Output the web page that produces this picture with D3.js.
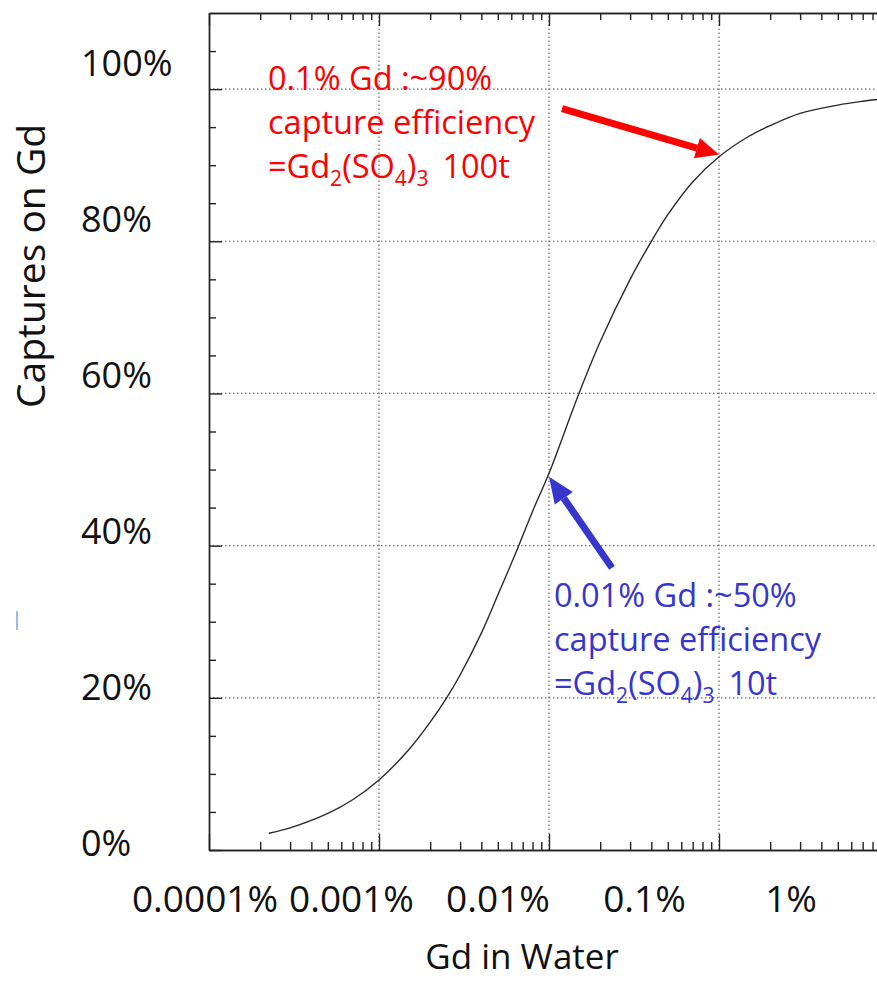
<!DOCTYPE html>
<html>
<head>
<meta charset="utf-8">
<script src="https://cdn.jsdelivr.net/npm/d3@7"></script>
<style>
  body { margin: 0; background: #fff; }
  text { font-family: "Open Sans", Lato, sans-serif; }
</style>
</head>
<body>
<svg class="chart"></svg>
<script>
// Gd concentration in water (%) and fraction of captures on Gd (%)
var gdPct = [2.25e-4, 3e-4, 5e-4, 7e-4, 1e-3, 1.5e-3, 2e-3, 2.5e-3, 3e-3, 4e-3, 5e-3, 6.5e-3, 8e-3,
  1e-2, 1.5e-2, 2e-2, 3e-2, 4e-2, 5e-2, 7e-2, 0.1, 0.15, 0.2, 0.3, 0.5, 0.7, 1.0, 1.5];
var capturePct = [2.2, 2.9, 4.8, 6.6, 9.2, 13.2, 16.8, 20, 23, 28.5, 33.5, 39.5, 44.5,
  49.5, 60, 66.8, 75, 80, 83.5, 87.8, 91.1, 93.8, 95.2, 96.8, 97.9, 98.4, 98.8, 99.1];

var xDecades = [1e-4, 1e-3, 1e-2, 1e-1, 1, 10];
var xTickLabels = ["0.0001%", "0.001%", "0.01%", "0.1%", "1%"];
var yMajor = [0, 20, 40, 60, 80, 100];
var yTickLabels = ["0%", "20%", "40%", "60%", "80%", "100%"];

// annotations: point on the curve they point to
var notes = [
  { gd: 0.1, cap: 91.4, color: "#ff0000",
    lines: ["0.1% Gd :~90%", "capture efficiency"], tail: "100t" },
  { gd: 0.01, cap: 49.3, color: "#3636cc",
    lines: ["0.01% Gd :~50%", "capture efficiency"], tail: "10t" }
];

var W = 877, H = 981;
var svg = d3.select('.chart').attr('width', W).attr('height', H);

var x = d3.scaleLog().domain([1e-4, 10]).range([209, 1059]);
var y = d3.scaleLinear().domain([0, 110]).range([850, 13]);

var minorX = [];
xDecades.slice(0, 5).forEach(function(d) {
  for (var k = 2; k < 10; k++) minorX.push(d * k);
});
var minorY = d3.range(5, 110, 5).filter(function(v) { return v % 20 != 0; });

// gridlines (dotted)
var grid = svg.append('g').attr('class', 'grid')
  .attr('stroke', '#666').attr('stroke-width', 1.2).attr('stroke-dasharray', '1.5,2.5');
grid.selectAll('line.gx').data(xDecades.slice(1)).enter().append('line')
  .attr('x1', function(d) { return x(d); }).attr('x2', function(d) { return x(d); })
  .attr('y1', y(0)).attr('y2', y(110));
grid.selectAll('line.gy').data(yMajor.slice(1)).enter().append('line')
  .attr('x1', x(1e-4)).attr('x2', x(10))
  .attr('y1', function(d) { return y(d); }).attr('y2', function(d) { return y(d); });

function styleAxis(g) {
  g.selectAll('path, line').attr('stroke', '#222').attr('stroke-width', 1.4);
  g.selectAll('text').remove();
}

// bottom
svg.append('g').attr('transform', 'translate(0,' + y(0) + ')')
  .call(d3.axisTop(x).tickValues(minorX).tickSize(8).tickSizeOuter(0).tickFormat(''))
  .call(styleAxis);
svg.append('g').attr('transform', 'translate(0,' + y(0) + ')')
  .call(d3.axisTop(x).tickValues(xDecades).tickSize(16).tickSizeOuter(0).tickFormat(''))
  .call(styleAxis);
// top
svg.append('g').attr('transform', 'translate(0,' + y(110) + ')')
  .call(d3.axisBottom(x).tickValues(minorX).tickSize(7).tickSizeOuter(0).tickFormat(''))
  .call(styleAxis);
svg.append('g').attr('transform', 'translate(0,' + y(110) + ')')
  .call(d3.axisBottom(x).tickValues(xDecades).tickSize(13).tickSizeOuter(0).tickFormat(''))
  .call(styleAxis);
// left
svg.append('g').attr('transform', 'translate(' + x(1e-4) + ',0)')
  .call(d3.axisRight(y).tickValues(minorY).tickSize(7).tickSizeOuter(0).tickFormat(''))
  .call(styleAxis);
svg.append('g').attr('transform', 'translate(' + x(1e-4) + ',0)')
  .call(d3.axisRight(y).tickValues(yMajor).tickSize(13).tickSizeOuter(0).tickFormat(''))
  .call(styleAxis);

// tick labels (placed in their own evenly spaced slots, like the original slide)
var xLab = d3.scalePoint().domain(xTickLabels).range([205, 791]);
svg.append('g').selectAll('text').data(xTickLabels).enter().append('text')
  .attr('x', function(d) { return xLab(d); }).attr('y', 912)
  .attr('text-anchor', 'middle').attr('font-size', 37).attr('fill', '#111')
  .text(function(d) { return d; });

var yLab = d3.scalePoint().domain(yTickLabels).range([856, 76]);
svg.append('g').selectAll('text').data(yTickLabels).enter().append('text')
  .attr('x', 81).attr('y', function(d) { return yLab(d); })
  .attr('font-size', 36).attr('fill', '#111')
  .text(function(d) { return d; });

svg.append('text').attr('x', 522).attr('y', 969).attr('text-anchor', 'middle')
  .attr('font-size', 35).attr('fill', '#111').text('Gd in Water');
svg.append('text').attr('transform', 'translate(45,266) rotate(-90)')
  .attr('text-anchor', 'middle').attr('font-size', 39).attr('fill', '#111')
  .text('Captures on Gd');

// the curve
var line = d3.line()
  .x(function(d, i) { return x(gdPct[i]); })
  .y(function(d) { return y(d); })
  .curve(d3.curveCatmullRom.alpha(0.5));
svg.append('path').datum(capturePct)
  .attr('d', line).attr('fill', 'none').attr('stroke', '#2a2a2a').attr('stroke-width', 1.4);

// arrows + annotation text
function arrow(x1, y1, x2, y2, color, headLen, headW, width) {
  var ang = Math.atan2(y2 - y1, x2 - x1);
  var bx = x2 - headLen * Math.cos(ang), by = y2 - headLen * Math.sin(ang);
  var px = -Math.sin(ang) * headW / 2, py = Math.cos(ang) * headW / 2;
  svg.append('line').attr('x1', x1).attr('y1', y1).attr('x2', bx).attr('y2', by)
    .attr('stroke', color).attr('stroke-width', width);
  svg.append('path')
    .attr('d', 'M' + x2 + ',' + y2 + 'L' + (bx + px) + ',' + (by + py) + 'L' + (bx - px) + ',' + (by - py) + 'Z')
    .attr('fill', color);
}

var red = notes[0], blue = notes[1];
arrow(x(red.gd) - 157, y(red.cap) - 46, x(red.gd), y(red.cap), red.color, 23, 21, 7);
arrow(x(blue.gd) + 63, y(blue.cap) + 93, x(blue.gd), y(blue.cap) + 2, blue.color, 26, 22, 7);

function noteText(n, tx, ty) {
  var g = svg.append('g').attr('fill', n.color).attr('font-size', 32.5);
  n.lines.forEach(function(s, i) {
    g.append('text').attr('x', tx).attr('y', ty + i * 44).text(s);
  });
  var t = g.append('text').attr('x', tx).attr('y', ty + 88);
  t.append('tspan').text('=Gd');
  t.append('tspan').attr('font-size', 21).attr('dy', 8).text('2');
  t.append('tspan').attr('dy', -8).text('(SO');
  t.append('tspan').attr('font-size', 21).attr('dy', 8).text('4');
  t.append('tspan').attr('dy', -8).text(')');
  t.append('tspan').attr('font-size', 21).attr('dy', 8).text('3');
  t.append('tspan').attr('dy', -8).attr('dx', 14).text(n.tail);
}
noteText(red, 268, 90);
noteText(blue, 554, 607);

// stray cursor mark at the left edge of the slide
svg.append('line').attr('x1', 17).attr('x2', 17).attr('y1', 611).attr('y2', 630)
  .attr('stroke', '#7ea6dc').attr('stroke-width', 1.5);
</script>
</body>
</html>
